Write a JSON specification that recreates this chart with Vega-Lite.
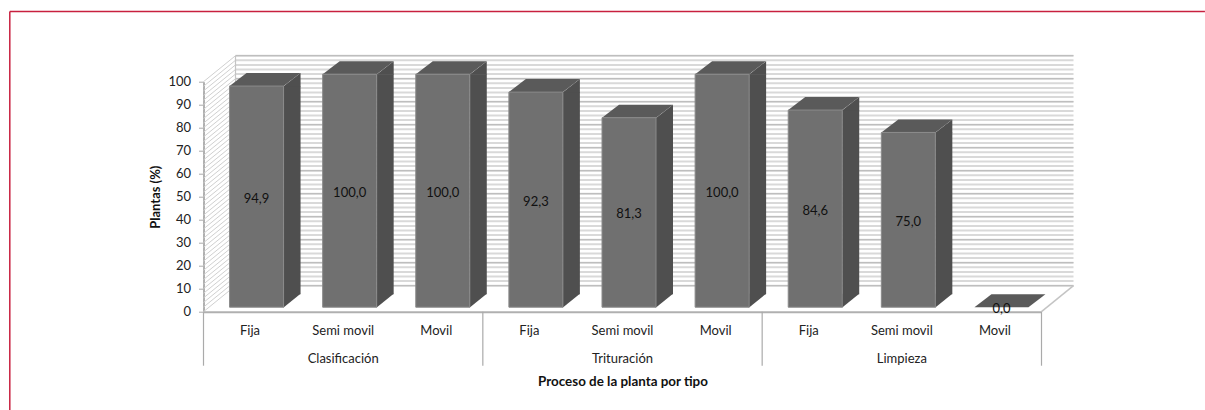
{
"$schema":"https://vega.github.io/schema/vega-lite/v6.json",
"autosize":{"type":"none"},
"padding":{"left":203.5,"top":81.7,"right":163.5,"bottom":98.3},
"width":838,"height":230,
"background":"white",
"config":{"view":{"stroke":null},"font":"Lato","axis":{"labelFont":"Lato","titleFont":"Lato"}},
"datasets":{
"plantas":[
{"clave":"Clasificación|Fija","proceso":"Clasificación","tipo":"Fija","plantas":94.9},
{"clave":"Clasificación|Semi movil","proceso":"Clasificación","tipo":"Semi movil","plantas":100},
{"clave":"Clasificación|Movil","proceso":"Clasificación","tipo":"Movil","plantas":100},
{"clave":"Trituración|Fija","proceso":"Trituración","tipo":"Fija","plantas":92.3},
{"clave":"Trituración|Semi movil","proceso":"Trituración","tipo":"Semi movil","plantas":81.3},
{"clave":"Trituración|Movil","proceso":"Trituración","tipo":"Movil","plantas":100},
{"clave":"Limpieza|Fija","proceso":"Limpieza","tipo":"Fija","plantas":84.6},
{"clave":"Limpieza|Semi movil","proceso":"Limpieza","tipo":"Semi movil","plantas":75},
{"clave":"Limpieza|Movil","proceso":"Limpieza","tipo":"Movil","plantas":0}
],
"niveles":[{"nivel":0},{"nivel":2},{"nivel":4},{"nivel":6},{"nivel":8},{"nivel":10},{"nivel":12},{"nivel":14},{"nivel":16},{"nivel":18},{"nivel":20},{"nivel":22},{"nivel":24},{"nivel":26},{"nivel":28},{"nivel":30},{"nivel":32},{"nivel":34},{"nivel":36},{"nivel":38},{"nivel":40},{"nivel":42},{"nivel":44},{"nivel":46},{"nivel":48},{"nivel":50},{"nivel":52},{"nivel":54},{"nivel":56},{"nivel":58},{"nivel":60},{"nivel":62},{"nivel":64},{"nivel":66},{"nivel":68},{"nivel":70},{"nivel":72},{"nivel":74},{"nivel":76},{"nivel":78},{"nivel":80},{"nivel":82},{"nivel":84},{"nivel":86},{"nivel":88},{"nivel":90},{"nivel":92},{"nivel":94},{"nivel":96},{"nivel":98},{"nivel":100}]
},
"resolve":{"scale":{"y":"independent"},"axis":{"x":"independent"}},
"layer":[
{"resolve":{"axis":{"x":"independent"}},"layer":[
 {"data":{"name":"niveles"},"mark":{"type":"rule","stroke":"#d9d9d9","strokeWidth":2,"xOffset":32,"x2Offset":78.55,"yOffset":-26},
  "encoding":{"y":{"field":"nivel","type":"quantitative","scale":{"domain":[0,100],"nice":false},
   "axis":{"values":[0,10,20,30,40,50,60,70,80,90,100],"tickCount":11,"labelOverlap":false,"title":"Plantas (%)","titleFontWeight":"bold","titleFontSize":13,"titleColor":"#111","titlePadding":5,"labelFontSize":13,"labelColor":"#222","labelPadding":8,"tickSize":5,"tickColor":"#aaaaaa","domainColor":"#b0b0b0","domainWidth":2,"grid":false}},
   "x":{"datum":"Clasificación|Fija","bandPosition":0,"axis":null,
    "scale":{"type":"band","paddingInner":0,"paddingOuter":0,"domain":["Clasificación|Fija","Clasificación|Semi movil","Clasificación|Movil","Trituración|Fija","Trituración|Semi movil","Trituración|Movil","Limpieza|Fija","Limpieza|Semi movil","Limpieza|Movil"]}},"x2":{"datum":"Limpieza|Movil"}}},
 {"data":{"name":"plantas"},"transform":[{"filter":"datum.tipo=='Fija'"}],"mark":{"type":"rule","stroke":"#aaaaaa","strokeWidth":1.2,"y2Offset":54},
  "encoding":{"x":{"field":"clave","type":"nominal","bandPosition":0,"axis":null},
  "y":{"datum":0,"type":"quantitative"},
  "y2":{"datum":0}}},
 {"data":{"name":"plantas"},"transform":[{"filter":"datum.plantas==94.9"}],"mark":{"type":"rule","stroke":"#c8203f","strokeWidth":1.5,"yOffset":-70.3,"xOffset":-193.7,"x2Offset":210},
  "encoding":{"y":{"datum":100},"x":{"field":"clave","type":"nominal","bandPosition":0,"axis":null},"x2":{"datum":"Limpieza|Movil"}}},
 {"data":{"name":"plantas"},"transform":[{"filter":"datum.plantas==94.9"}],"mark":{"type":"rule","stroke":"#c8203f","strokeWidth":1.5,"xOffset":-193.7,"yOffset":-70.3,"y2Offset":100},
  "encoding":{"x":{"field":"clave","type":"nominal","bandPosition":0,"axis":null},"y":{"datum":100},"y2":{"datum":0}}},
 {"data":{"name":"niveles"},"transform":[{"filter":"datum.nivel%10==0"}],"mark":{"type":"rule","stroke":"#b8b8b8","strokeWidth":1,"xOffset":32,"x2Offset":78.55,"yOffset":-26},
  "encoding":{"y":{"field":"nivel","type":"quantitative"},"x":{"datum":"Clasificación|Fija","bandPosition":0,"axis":null},"x2":{"datum":"Limpieza|Movil"}}},
 {"data":{"name":"niveles"},"mark":{"type":"rule","stroke":"#d0d0d0","strokeWidth":1,"y2Offset":-26,"x2Offset":-14.55},
  "encoding":{"y":{"field":"nivel","type":"quantitative"},"y2":{"field":"nivel"},"x":{"datum":"Clasificación|Fija","bandPosition":0,"axis":null},"x2":{"datum":"Clasificación|Fija"}}},
 {"data":{"name":"plantas"},"transform":[{"filter":"datum.plantas==94.9"}],"mark":{"type":"rule","stroke":"#c4c4c4","strokeWidth":1.2,"xOffset":32,"yOffset":-26,"y2Offset":-26},
  "encoding":{"x":{"field":"clave","type":"nominal","bandPosition":0,"axis":null},"y":{"datum":100},"y2":{"datum":0}}},
 {"data":{"name":"plantas"},"transform":[{"filter":"datum.proceso=='Limpieza'&&datum.tipo=='Movil'"}],"mark":{"type":"rule","stroke":"#aaaaaa","strokeWidth":1.2,"y2Offset":54},
  "encoding":{"x":{"field":"clave","type":"nominal","bandPosition":1,"axis":null},"y":{"datum":0},"y2":{"datum":0}}},
 {"data":{"name":"plantas"},"transform":[{"filter":"datum.proceso=='Limpieza'&&datum.tipo=='Movil'"}],"mark":{"type":"rule","stroke":"#c4c4c4","strokeWidth":1.5,"y2Offset":-26,"x2Offset":78.55},
  "encoding":{"x":{"field":"clave","type":"nominal","bandPosition":1,"axis":null},"x2":{"datum":"Limpieza|Movil"},"y":{"datum":0},"y2":{"datum":0}}},
 {"data":{"name":"plantas"},"transform":[{"filter":"datum.tipo=='Semi movil'"}],"mark":{"type":"text","fontSize":13,"color":"#222","yOffset":47},
  "encoding":{"x":{"field":"clave","type":"nominal","axis":{"labelExpr":"split(datum.label,'|')[1]","labelAngle":0,"ticks":false,"labelPadding":13,"labelFontSize":13,"labelColor":"#222","domainColor":"#b0b0b0","domainWidth":2,"title":"Proceso de la planta por tipo","titleFontWeight":"bold","titleFontSize":13.4,"titleColor":"#111","titlePadding":37}},"y":{"datum":0},"text":{"field":"proceso"}}}
]},
{"data":{"name":"plantas"},"layer":[
 {"transform":[{"filter":"datum.plantas>0"}],"mark":{"type":"bar","color":"#4f4f4f","width":17,"xOffset":42,"yOffset":-4.5,"y2Offset":-17.5},
  "encoding":{"x":{"field":"clave","type":"nominal","axis":null},"y":{"field":"plantas","type":"quantitative","scale":{"domain":[0,98.7],"nice":false},"axis":null},"y2":{"datum":0}}},
 {"transform":[{"filter":"datum.plantas>0"}],"mark":{"type":"point","shape":"M26.7 0.5L44 -13L44 0.5Z","filled":true,"color":"#4f4f4f","opacity":1,"size":4,"xOffset":6.5,"yOffset":-4.5},
  "encoding":{"x":{"field":"clave","type":"nominal","axis":null},"y":{"field":"plantas","type":"quantitative"}}},
 {"transform":[{"filter":"datum.plantas>0"}],"mark":{"type":"point","shape":"M26.7 0.5L26.7 -13.5L44 -13.5Z","filled":true,"color":"#4f4f4f","opacity":1,"size":4,"xOffset":6.5,"yOffset":-4.5},
  "encoding":{"x":{"field":"clave","type":"nominal","axis":null},"y":{"datum":0}}},
 {"mark":{"type":"point","shape":"M-27 0L-10 -13L44 -13L27 0Z","filled":true,"color":"#5a5a5a","opacity":1,"size":4,"xOffset":6.5,"yOffset":-4.5},
  "encoding":{"x":{"field":"clave","type":"nominal","axis":null},"y":{"field":"plantas","type":"quantitative"}}},
 {"transform":[{"filter":"datum.plantas>0"}],"mark":{"type":"bar","color":"#707070","stroke":"#8a8a8a","strokeWidth":1,"width":54,"xOffset":6.5,"yOffset":-4.5,"y2Offset":-4.5},
  "encoding":{"x":{"field":"clave","type":"nominal","axis":null},"y":{"field":"plantas","type":"quantitative"},"y2":{"datum":0}}}
]},
{"data":{"name":"plantas"},"mark":{"type":"text","fontSize":13,"color":"#111","xOffset":6.5,"yOffset":-2.5,"text":{"expr":"replace(format(datum.plantas,'.1f'),'.',',')"}},
 "encoding":{"x":{"field":"clave","type":"nominal","axis":null},"y":{"field":"plantas","type":"quantitative","scale":{"domain":[0,197.4],"nice":false},"axis":null}}}
]
}
